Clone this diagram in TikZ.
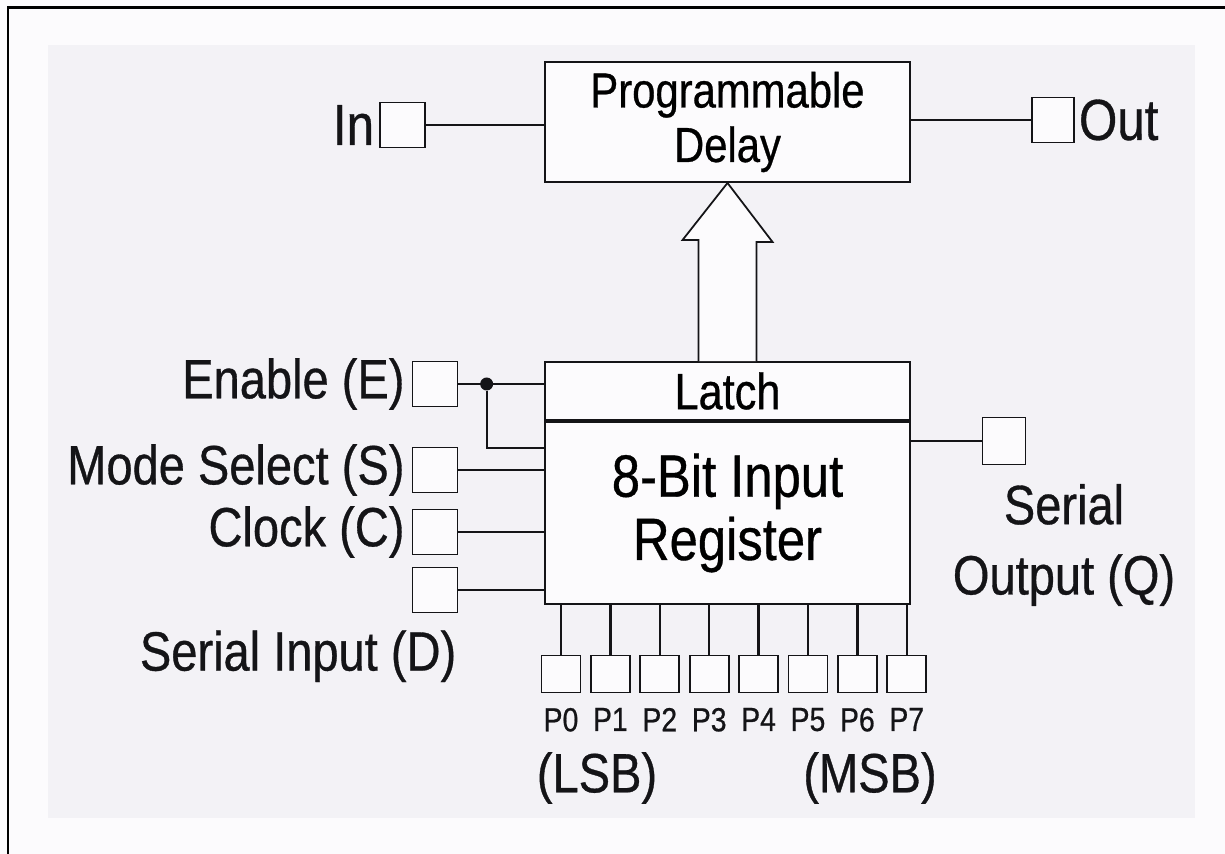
\documentclass[tikz,border=0pt]{standalone}
\usepackage{fontspec}
\setmainfont{Liberation Sans}[FakeStretch=0.85,FakeBold=0.6]
\usetikzlibrary{positioning,calc}
\definecolor{ink}{HTML}{141417}
\definecolor{paper}{HTML}{FCFBFD}
\definecolor{panel}{HTML}{F3F2F6}

\begin{document}
\begin{tikzpicture}[x=0.02cm,y=-0.02cm,
  blk/.style={draw=ink,fill=paper,line width=1.1pt,align=center,inner sep=0pt,minimum width=7.3cm,font=\fontsize{28}{31}\selectfont},
  pad/.style={draw=ink,fill=paper,line width=1pt,minimum width=0.9cm,minimum height=0.9cm,inner sep=0pt},
  pinpad/.style={pad,minimum width=0.78cm,minimum height=0.74cm},
  lbl/.style={inner sep=1pt,text=ink,align=center,font=\fontsize{31.5}{40}\selectfont},
  pinlbl/.style={inner sep=1pt,text=ink,font=\fontsize{19}{21}\selectfont},
  wire/.style={draw=ink,line width=1.3pt},
  dot/.style={circle,fill=ink,inner sep=0pt,minimum size=0.26cm}]
\useasboundingbox[fill=paper] (0,0) rectangle (1225,854);
\fill[panel] (48,45) rectangle (1195,818);
\draw[line width=1.7pt,black] (1225,8) -- (8,8) -- (8,854);

% delay block with in / out
\node[blk,minimum height=2.4cm] (delay) at (727.5,122) {Programmable\\Delay};
\node[pad] (inbox) at (402.5,125) {};
\node[lbl,left=0.06cm of inbox,font=\fontsize{33}{36}\selectfont] (inlbl) {In};
\node[pad,minimum width=0.84cm] (outbox) at (1053,120) {};
\node[lbl,right=0.04cm of outbox,font=\fontsize{33}{36}\selectfont] (outlbl) {Out};
\draw[wire] (inbox) -- (inbox -| delay.west);
\draw[wire] (delay.east |- outbox) -- (outbox);

% latch and register
\node[blk,minimum height=1.16cm,font=\fontsize{29}{32}\selectfont] (latch) at (727.5,391) {Latch};
\node[blk,minimum height=3.64cm,below=0pt of latch,font=\fontsize{34}{36}\selectfont] (reg) {8-Bit Input\\Register};
\draw[ink,line width=1pt,fill=paper] ([xshift=-0.58cm]latch.north) -- ++(0,2.42cm) -- ++(-0.32cm,0)
  -- (delay.south) -- ++(0.9cm,-1.18cm) -- ++(-0.32cm,0) -- ([xshift=0.58cm]latch.north);

% control inputs
\node[pad] (en) at (435,384) {};
\node[pad] (ms) at (435,470) {};
\node[pad] (clk) at (435,532) {};
\node[pad] (sin) at (435,590) {};
\node[lbl,left=0.1cm of en] (enlbl) {Enable (E)};
\node[lbl,left=0.1cm of ms] (mslbl) {Mode Select (S)};
\node[lbl,left=0.1cm of clk] (clklbl) {Clock (C)};
\node[lbl,anchor=north east] (sinlbl) at ([yshift=-0.3cm]sin.south east) {Serial Input (D)};
\node[dot] (jn) at ($(en.east)!0.33!(en.east -| latch.west)$) {};
\draw[wire] (en) -- (en -| latch.west);
\draw[wire] (jn) |- ([yshift=-0.54cm]reg.north west);
\draw[wire] (ms) -- (ms -| reg.west);
\draw[wire] (clk) -- (clk -| reg.west);
\draw[wire] (sin) -- (sin -| reg.west);

% serial output
\node[pad,minimum width=0.86cm,minimum height=0.94cm] (q) at (1004,441) {};
\node[lbl] (qlbl) at (1064,545) {Serial\\Output (Q)};
\draw[wire] (reg.east |- q) -- (q);

% parallel inputs
\foreach \i in {0,...,7}{
  \node[pinpad] (p\i) at ({561+49.4*\i},674) {};
  \node[pinlbl,below=0.25cm of p\i] (pl\i) {P\i};
  \draw[wire] (p\i.north |- reg.south) -- (p\i.north);
}
\node[lbl] (lsb) at (597,778) {(LSB)};
\node[lbl] (msb) at (870,778) {(MSB)};
\end{tikzpicture}
\end{document}
